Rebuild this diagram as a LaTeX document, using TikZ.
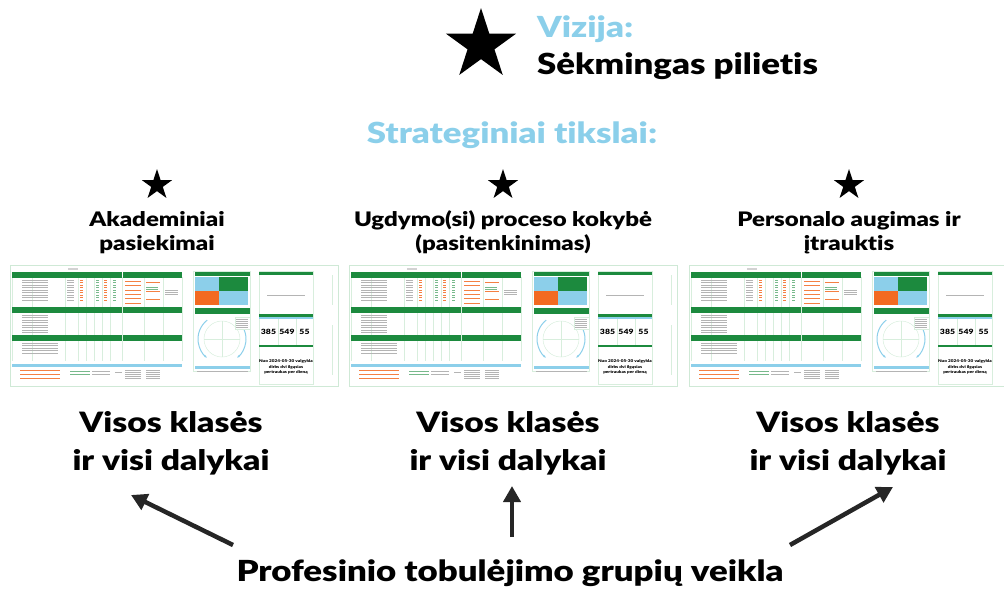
\documentclass[tikz,border=0pt]{standalone}
\usepackage{fontspec}
\setmainfont{Lato}
\newfontfamily\hv{Lato Black}[FakeStretch=1.2, Ligatures=NoCommon]
\usetikzlibrary{shapes.geometric,arrows.meta}
\definecolor{skyb}{HTML}{8BCFEA}
\definecolor{dgreen}{HTML}{1C8A3E}
\definecolor{qblue}{HTML}{8CCFEA}
\definecolor{orng}{HTML}{F26A21}
\definecolor{frameg}{HTML}{CFE9D6}
\definecolor{gridg}{HTML}{D8EEDD}
\definecolor{txtg}{HTML}{B4B4B4}
\definecolor{arrowc}{HTML}{262626}
\tikzset{
  bigtxt/.style={font=\hv\fontsize{29}{34}\selectfont, inner sep=0pt},
  ttltxt/.style={font=\hv\fontsize{20}{24}\selectfont, inner sep=0pt, anchor=base},
  vistxt/.style={font=\hv\fontsize{28}{34}\selectfont, inner sep=0pt, anchor=base},
  starnode/.style={star, star points=5, star point ratio=2.618, fill=black, inner sep=0pt},
  bigarrow/.style={arrowc, line width=4.5pt, -{Triangle[length=16pt,width=17pt]}},
  hdr/.style={fill=dgreen},
  tline/.style={txtg, line width=0.45pt},
  oline/.style={orng!85, line width=0.9pt},
  gline/.style={dgreen!60, line width=0.7pt},
  gridl/.style={gridg, line width=0.5pt},
  numtxt/.style={font=\hv\fontsize{7.2}{9}\selectfont, inner sep=0pt},
  smalltxt/.style={font=\hv\fontsize{3.9}{5.6}\selectfont, inner sep=0pt, align=center}
}
\newcommand{\dashthumb}[2]{%
\begin{scope}[shift={#1}]
  \draw[frameg, line width=1pt] (0,0) rectangle (328,121);
  % table grid
  \foreach \xx in {2,22,55,68,76,84,92,100,112,134,153,172}
    \draw[gridl] (\xx,12) -- (\xx,96);
  % table headers
  \fill[hdr] (2,7) rectangle (112,13);
  \fill[hdr] (113,7) rectangle (172,13);
  \fill[hdr] (2,42) rectangle (112,48);
  \fill[hdr] (113,42) rectangle (172,48);
  \fill[hdr] (2,70) rectangle (112,76);
  \fill[hdr] (113,70) rectangle (172,76);
  \fill[txtg!60] (58,3) rectangle (68,5);
  % rows table 1
  \foreach \yy in {15,17.5,20,22.5,25,27.5,30,32.5,35} {
    \draw[tline] (12,\yy) -- (38,\yy);
    \draw[tline] (57,\yy) -- (64,\yy);
    \draw[oline, line width=0.4pt] (70,\yy) -- (73,\yy);
    \draw[gline, line width=0.4pt] (86,\yy) -- (89,\yy);
    \draw[oline, line width=0.4pt] (94,\yy) -- (97,\yy);
    \draw[gline, line width=0.4pt] (103,\yy) -- (106,\yy);
  }
  \foreach \yy in {16,20,25,29,33,38} \draw[oline] (115,\yy) -- (131,\yy);
  \foreach \yy in {17,26,34} \draw[oline] (136,\yy) -- (150,\yy);
  \foreach \yy in {22,24} \draw[gline] (136,\yy) -- (148,\yy);
  \foreach \yy in {25,27,29} \draw[tline] (155,\yy) -- (168,\yy);
  % rows table 2
  \foreach \yy in {50,52.5,55,57.5,60,62.5,65,67.5} \draw[tline] (12,\yy) -- (38,\yy);
  % rows table 3
  \foreach \yy in {78,80.5,83,85.5,88} \draw[tline] (12,\yy) -- (48,\yy);
  % bottom table
  \fill[qblue] (2,99) rectangle (172,102);
  \foreach \yy in {105,109,113} \draw[oline] (10,\yy) -- (50,\yy);
  \draw[gline] (60,106) -- (80,106);
  \draw[gline] (60,109) -- (80,109);
  \foreach \yy in {106,109} \draw[tline] (82,\yy) -- (100,\yy);
  \draw[tline] (105,107) -- (112,107);
  \foreach \yy in {105,107,109,111,113} {\draw[tline] (115,\yy) -- (131,\yy); \draw[tline] (136,\yy) -- (150,\yy);}
  % middle panel
  \draw[gridg, line width=0.6pt] (183,6) rectangle (240,106);
  \fill[hdr] (185,7) rectangle (240,11);
  \fill[qblue] (185,12) rectangle (209,26);
  \fill[dgreen] (209,12) rectangle (238,26);
  \fill[orng] (185,26) rectangle (209,40);
  \fill[qblue] (209,26) rectangle (238,40);
  \fill[hdr] (185,43) rectangle (240,49);
  \draw[gridg, line width=0.5pt] (212,74) circle (18);
  \draw[gridg, line width=0.5pt] (194,74) -- (230,74) (212,56) -- (212,92);
  \draw[qblue, line width=1pt, -{Latex[length=3pt]}] (212,74) ++(232:24) arc (232:128:24);
  \draw[qblue, line width=1pt, -{Latex[length=3pt]}] (212,74) ++(-52:24) arc (-52:52:24);
  \fill[white] (225,52) rectangle (240,64);
  \draw[gridg, line width=0.4pt] (225,52) rectangle (240,64);
  \foreach \yy in {54,56,58,60,62} \draw[tline, line width=0.4pt] (226,\yy) -- (238,\yy);
  \fill[qblue] (185,101) rectangle (240,104);
  \draw[tline, line width=0.4pt] (187,106) -- (238,106);
  % right panel
  \draw[gridg, line width=0.6pt] (249,6) rectangle (303,119);
  \fill[hdr] (249,7) rectangle (303,10);
  \draw[txtg, line width=0.7pt] (257,30) -- (295,30);
  \fill[hdr] (249,49) rectangle (303,52);
  \fill[qblue] (249,52) rectangle (303,54);
  \draw[gridg, line width=0.6pt] (268,54) -- (268,80) (286,54) -- (286,80);
  \node[numtxt] (#2a) at (258.5,67) {385};
  \node[numtxt] (#2b) at (277,67) {549};
  \node[numtxt] (#2c) at (294.5,67) {55};
  \fill[hdr] (249,80) rectangle (303,82);
  \node[smalltxt] (#2d) at (276,102) {Nuo 2024-05-30 valgykla\\dirbs dvi ilgąsias\\pertraukas per dieną};
  \draw[gridl] (322,10) -- (322,40) (322,60) -- (322,110);
\end{scope}}

\begin{document}
\begin{tikzpicture}[x=1pt,y=-1pt]
\useasboundingbox (0,0) rectangle (1004,590);
% vision
\node[starnode, minimum size=74pt] (bigstar) at (481,45) {};
\node[bigtxt, anchor=base west, text=skyb] (viz) at (537,37) {Vizija:};
\node[bigtxt, anchor=base west] (sek) at (537,74) {Sėkmingas pilietis};
\node[bigtxt, anchor=base, text=skyb] (strat) at (512,143) {Strateginiai tikslai:};
% goals
\node[starnode, minimum size=32pt] (s1) at (157,185) {};
\node[starnode, minimum size=32pt] (s2) at (503,185) {};
\node[starnode, minimum size=32pt] (s3) at (849,185) {};
\node[ttltxt] (t1a) at (157,226) {Akademiniai};
\node[ttltxt] (t1b) at (157,250) {pasiekimai};
\node[ttltxt] (t2a) at (503,226) {Ugdymo(si) proceso kokybė};
\node[ttltxt] (t2b) at (503,250) {(pasitenkinimas)};
\node[ttltxt] (t3a) at (849,226) {Personalo augimas ir};
\node[ttltxt] (t3b) at (849,250) {įtrauktis};
% dashboards
\dashthumb{(10,265)}{da}
\dashthumb{(349,265)}{db}
\dashthumb{(689,265)}{dc}
% all classes
\node[vistxt] (v1a) at (171,432) {Visos klasės};
\node[vistxt] (v1b) at (171,470) {ir visi dalykai};
\node[vistxt] (v2a) at (508,432) {Visos klasės};
\node[vistxt] (v2b) at (508,470) {ir visi dalykai};
\node[vistxt] (v3a) at (848,432) {Visos klasės};
\node[vistxt] (v3b) at (848,470) {ir visi dalykai};
% bottom
\node[font=\hv\fontsize{29}{34}\selectfont, inner sep=0pt, anchor=base] (prof) at (510,581) {Profesinio tobulėjimo grupių veikla};
\coordinate (a1s) at (233,545);
\coordinate (a1e) at (131,495);
\coordinate (a2s) at (512,537);
\coordinate (a2e) at (512,486);
\coordinate (a3s) at (790,545);
\coordinate (a3e) at (893,487);
\draw[bigarrow] (a1s) -- (a1e);
\draw[bigarrow] (a2s) -- (a2e);
\draw[bigarrow] (a3s) -- (a3e);
\end{tikzpicture}
\end{document}
